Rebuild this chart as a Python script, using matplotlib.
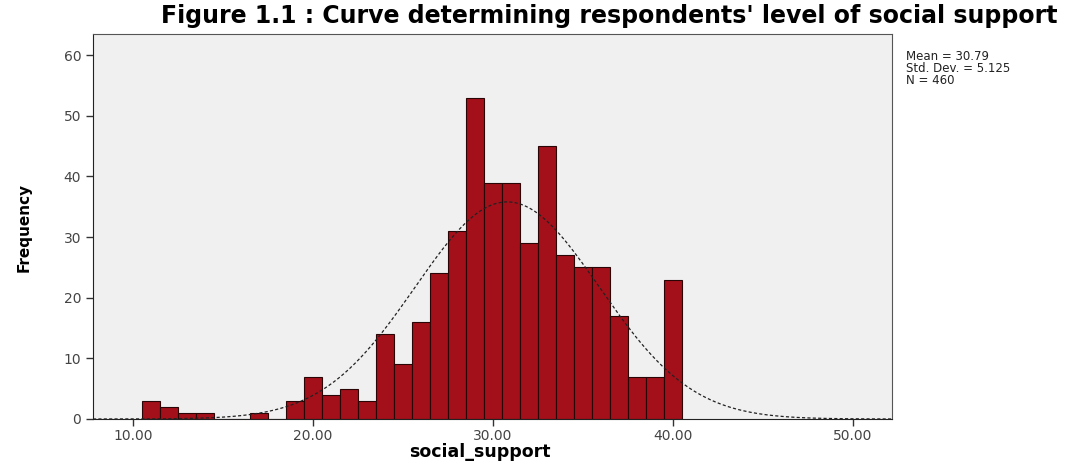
import numpy as np
import matplotlib
matplotlib.use("Agg")
from matplotlib import pyplot as plt

# histogram of social_support (bins centred on whole numbers)
bin_centers = list(range(11, 41))
counts = [3, 2, 1, 1, 0, 0, 1, 0, 3, 7, 4, 5, 3, 14, 9, 16, 24, 31,
          53, 39, 39, 29, 45, 27, 25, 25, 17, 7, 7, 23]
x_ticks = [10, 20, 30, 40, 50]
y_ticks = [0, 10, 20, 30, 40, 50, 60]
stats_lines = ["Mean = 30.79", "Std. Dev. = 5.125", "N = 460"]

mean = 30.79
sd = 5.125
n = 460

fig = plt.figure(figsize=(10.84, 4.62), dpi=100)
ax = fig.add_axes([0.0858, 0.0931, 0.7372, 0.8333])
ax.set_facecolor("#f0f0f0")

ax.bar(bin_centers, counts, width=1.0, color="#a3101a", edgecolor="#2a0505",
       linewidth=0.8, zorder=2)

# fitted normal curve
xs = np.linspace(7.78, 52.17, 300)
ys = n * 1.0 * np.exp(-0.5 * ((xs - mean) / sd) ** 2) / (sd * np.sqrt(2 * np.pi))
ax.plot(xs, ys, color="#222222", linestyle=(0, (2.5, 1.8)), linewidth=0.9, zorder=3)

ax.set_xlim(7.78, 52.17)
ax.set_ylim(0, 63.5)
ax.set_xticks(x_ticks)
ax.set_xticklabels(["%.2f" % v for v in x_ticks])
ax.set_yticks(y_ticks)
ax.tick_params(axis="both", direction="out", length=5, width=1, color="#333333",
               labelsize=10, labelcolor="#444444")
ax.tick_params(axis="x", pad=2)

for s in ["left", "bottom"]:
    ax.spines[s].set_color("#222222")
for s in ["top", "right"]:
    ax.spines[s].set_color("#555555")

fig.text(0.562, 0.966, "Figure 1.1 : Curve determining respondents' level of social support",
         ha="center", va="center", fontsize=17, fontweight="bold", family="DejaVu Sans")
fig.text(0.443, 0.022, "social_support", ha="center", va="center",
         fontsize=12.5, fontweight="bold", family="DejaVu Sans")
fig.text(0.022, 0.508, "Frequency", ha="center", va="center", rotation=90,
         fontsize=11, fontweight="bold",
         family=["Liberation Sans Narrow", "DejaVu Sans"])

for i, line in enumerate(stats_lines):
    fig.text(0.836, 0.877 - i * 0.026, line, ha="left", va="center",
             fontsize=8.5, color="#222222")

fig.savefig("out.png", dpi=100)
